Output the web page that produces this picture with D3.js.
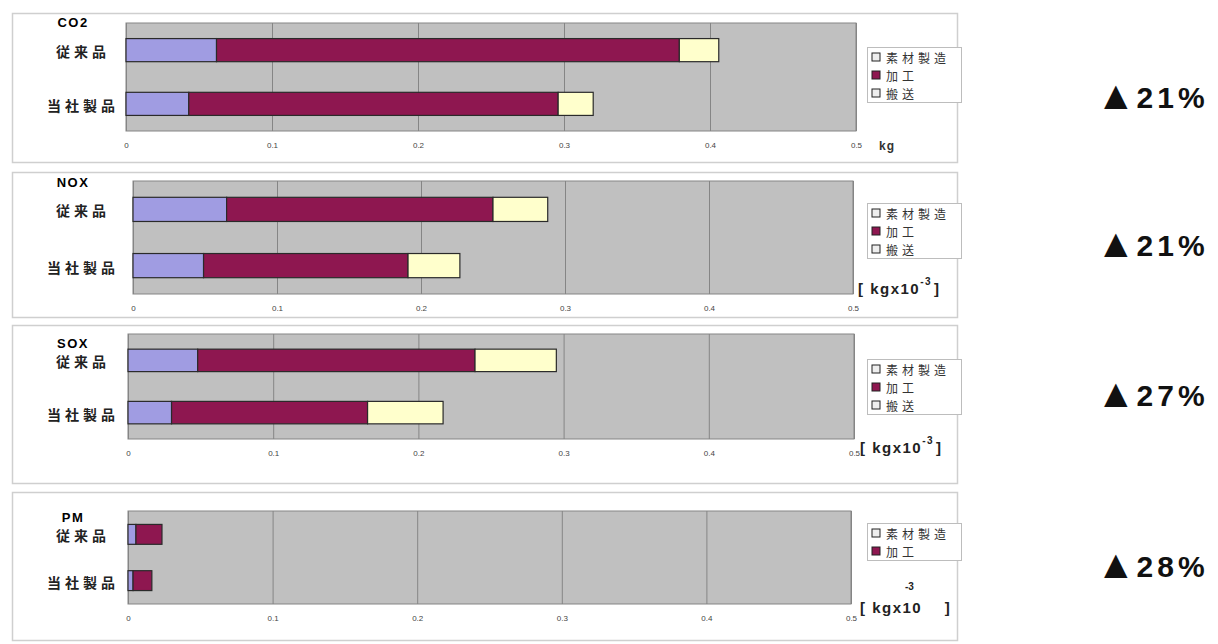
<!DOCTYPE html>
<html lang="ja">
<head>
    <meta charset="UTF-8">
    <title>環境負荷比較</title>
    <script src="https://cdn.jsdelivr.net/npm/d3@7"></script>
    <style>
        body { margin: 0; background: #fff; }
        svg { display: block; }
    </style>
</head>
<body>
    <div id="chart-space"></div>

    <script>
        // data (values per pollutant: [従来品, 当社製品])
        var pollutants = ["CO2", "NOX", "SOX", "PM"];
        var products = ["従来品", "当社製品"];
        var stages = ["素材製造", "加工", "搬送"];
        var material   = [[0.062, 0.043], [0.065, 0.049], [0.048, 0.030], [0.0055, 0.0035]];
        var processing = [[0.317, 0.253], [0.185, 0.142], [0.191, 0.135], [0.018, 0.013]];
        var transport  = [[0.027, 0.024], [0.038, 0.036], [0.056, 0.052], [0, 0]];
        var legendCounts = [3, 3, 3, 2];
        var reductions = ["21%", "21%", "27%", "28%"];
        var unitLabels = ["kg", "kgx10", "kgx10", "kgx10"];
        var unitExp = "-3";
        var xTicks = [0, 0.1, 0.2, 0.3, 0.4, 0.5];

        var width = 1218;
        var height = 644;

        // layout of each panel
        var panels = [
            {box: [13, 162], plot: [126, 856, 23, 131], title: 22, legend: 47, pct: 97},
            {box: [172, 317], plot: [133, 853, 181, 294], title: 182, legend: 203, pct: 245},
            {box: [325, 483], plot: [128, 854, 334, 439], title: 343, legend: 359, pct: 395},
            {box: [492, 640], plot: [128, 851, 511, 604], title: 517, legend: 523, pct: 566}
        ];

        var colors = {"素材製造": "#a09ce2", "加工": "#8e1750", "搬送": "#ffffcc"};

        var svg = d3.select("#chart-space")
            .append("svg")
            .attr("width", width)
            .attr("height", height);

        panels.forEach(function(p, i) {
            var rows = products.map(function(name, j) {
                return {product: name, "素材製造": material[i][j], "加工": processing[i][j], "搬送": transport[i][j]};
            });
            var keys = stages.slice(0, legendCounts[i]);
            var series = d3.stack().keys(keys)(rows);

            var g = svg.append("g");

            // panel frame
            g.append("rect")
                .attr("x", 12.5).attr("y", p.box[0] + 0.5)
                .attr("width", 945).attr("height", p.box[1] - p.box[0])
                .attr("fill", "#fff")
                .attr("stroke", "#cfcfcf")
                .attr("stroke-width", 1.5);

            var xScale = d3.scaleLinear()
                .domain([0, 0.5])
                .range([p.plot[0], p.plot[1]]);

            var yScale = d3.scaleBand()
                .domain(products)
                .range([p.plot[2], p.plot[3]])
                .paddingInner(0.57)
                .paddingOuter(0.29);

            // plot area
            g.append("rect")
                .attr("x", p.plot[0]).attr("y", p.plot[2])
                .attr("width", p.plot[1] - p.plot[0]).attr("height", p.plot[3] - p.plot[2])
                .attr("fill", "#c0c0c0")
                .attr("stroke", "#858585");

            // grid + tick labels
            var xAxis = g.append("g")
                .attr("transform", "translate(0," + p.plot[3] + ")")
                .call(d3.axisBottom(xScale).tickValues(xTicks)
                    .tickSize(-(p.plot[3] - p.plot[2]))
                    .tickPadding(11)
                    .tickFormat(function(d) { return d === 0 ? "0" : d3.format(".1f")(d); }));
            xAxis.select(".domain").remove();
            xAxis.selectAll(".tick line").attr("stroke", "#858585");
            xAxis.selectAll(".tick text")
                .attr("fill", "#444")
                .style("font-family", "Liberation Sans, Arial, sans-serif")
                .style("font-size", "8px");

            // stacked bars
            g.selectAll(".layer")
                .data(series)
                .join("g")
                .attr("fill", function(d) { return colors[d.key]; })
                .selectAll("rect")
                .data(function(d) { return d; })
                .join("rect")
                .attr("x", function(d) { return xScale(d[0]); })
                .attr("y", function(d) { return yScale(d.data.product); })
                .attr("width", function(d) { return xScale(d[1]) - xScale(d[0]); })
                .attr("height", yScale.bandwidth())
                .attr("stroke", "#2a2a2a")
                .attr("stroke-width", 1.2);

            // title and category labels
            g.append("text")
                .attr("x", 73).attr("y", p.title)
                .attr("text-anchor", "middle")
                .attr("dominant-baseline", "central")
                .style("font-family", "Liberation Sans, Arial, sans-serif")
                .style("font-weight", "bold")
                .style("font-size", "13px")
                .style("letter-spacing", "1.5px")
                .text(pollutants[i]);

            g.selectAll(".cat")
                .data(products)
                .join("text")
                .attr("x", 83)
                .attr("y", function(d) { return yScale(d) + yScale.bandwidth() / 2 + 1; })
                .attr("text-anchor", "middle")
                .attr("dominant-baseline", "central")
                .style("font-family", "Noto Sans CJK JP, sans-serif")
                .style("font-weight", "bold")
                .style("font-size", "14px")
                .style("letter-spacing", "4px")
                .attr("fill", "#222")
                .text(function(d) { return d; });

            // legend
            var lg = g.append("g").attr("transform", "translate(867," + p.legend + ")");
            lg.append("rect")
                .attr("x", 0.5).attr("y", 0.5)
                .attr("width", 94).attr("height", 19 + 18 * (keys.length - 1))
                .attr("fill", "#fff")
                .attr("stroke", "#bdbdbd");
            var items = lg.selectAll(".item")
                .data(keys)
                .join("g")
                .attr("transform", function(d, k) { return "translate(0," + (10 + 18 * k) + ")"; });
            items.append("rect")
                .attr("x", 5).attr("y", -4)
                .attr("width", 8).attr("height", 8)
                .attr("fill", function(d) { return d === "加工" ? colors[d] : "#eeeeee"; })
                .attr("stroke", "#222");
            items.append("text")
                .attr("x", 19).attr("y", 0)
                .attr("dominant-baseline", "central")
                .style("font-family", "Noto Sans CJK JP, sans-serif")
                .style("font-size", "12px")
                .style("letter-spacing", "4px")
                .attr("fill", "#333")
                .text(function(d) { return d; });

            // unit label
            var unitFont = "Liberation Sans, Arial, sans-serif";
            if (i === 0) {
                g.append("text")
                    .attr("x", 879).attr("y", p.plot[3] + 19)
                    .style("font-family", unitFont)
                    .style("font-weight", "bold")
                    .style("font-size", "12px")
                    .style("letter-spacing", "1px")
                    .attr("fill", "#333")
                    .text(unitLabels[i]);
            } else if (i < 3) {
                var ut = g.append("text")
                    .attr("x", i === 1 ? 858 : 860).attr("y", p.plot[3] + (i === 1 ? 0 : 14))
                    .style("font-family", unitFont)
                    .style("font-weight", "bold")
                    .style("font-size", "15px")
                    .style("letter-spacing", "1.5px")
                    .attr("fill", "#222");
                ut.append("tspan").text("[ " + unitLabels[i]);
                ut.append("tspan").attr("dy", -9).style("font-size", "10px").text(unitExp);
                ut.append("tspan").attr("dy", 9).attr("dx", 2).text("]");
            } else {
                g.append("text")
                    .attr("x", 905).attr("y", p.plot[3] - 14)
                    .style("font-family", unitFont)
                    .style("font-weight", "bold")
                    .style("font-size", "10px")
                    .attr("fill", "#222")
                    .text(unitExp);
                g.append("text")
                    .attr("x", p.plot[1] + 9).attr("y", p.plot[3] + 9)
                    .style("font-family", unitFont)
                    .style("font-weight", "bold")
                    .style("font-size", "15px")
                    .style("letter-spacing", "1.5px")
                    .attr("fill", "#222")
                    .attr("xml:space", "preserve")
                    .text("[ " + unitLabels[i] + "    ]");
            }

            // reduction rate
            var pt = svg.append("text")
                .attr("x", 1096).attr("y", p.pct)
                .attr("dominant-baseline", "central")
                .style("font-family", "Liberation Sans, Arial, sans-serif")
                .style("font-weight", "bold")
                .attr("fill", "#111");
            pt.append("tspan").style("font-size", "40px").attr("dy", -2).text("▲");
            pt.append("tspan").style("font-size", "30px").attr("dy", 2).attr("dx", 1)
                .style("letter-spacing", "4px").text(reductions[i]);
        });
    </script>
</body>
</html>
